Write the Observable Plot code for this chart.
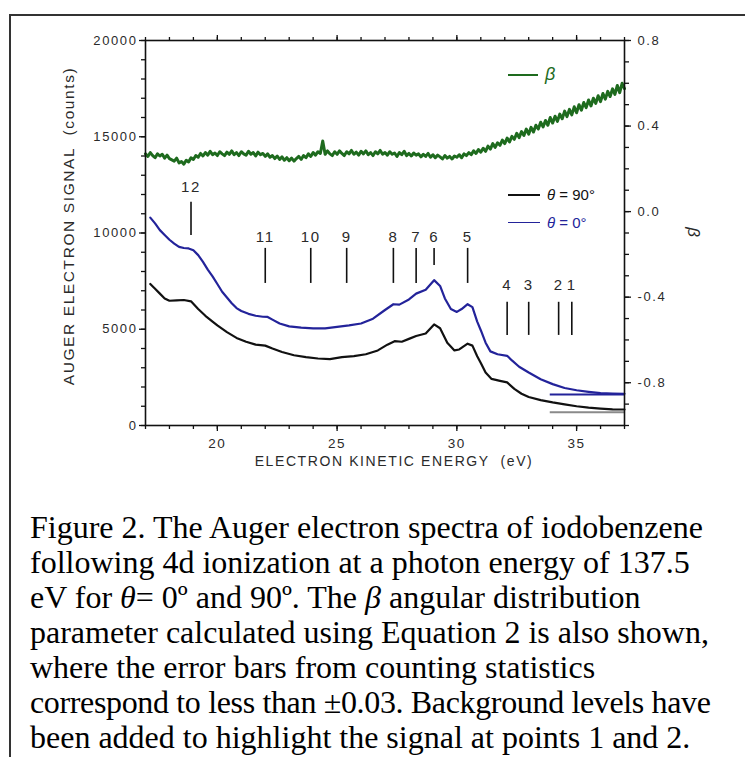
<!DOCTYPE html>
<html>
<head>
<meta charset="utf-8">
<script src="https://cdn.jsdelivr.net/npm/d3@7"></script>
<script src="https://cdn.jsdelivr.net/npm/@observablehq/plot@0.6"></script>
<style>
  html, body { margin: 0; padding: 0; background: #fff; }
  body { position: relative; width: 745px; height: 757px; overflow: hidden; }
  #frame { position: absolute; left: 9px; top: 14px; width: 800px; height: 800px;
           border-left: 2px solid #333; border-top: 2px solid #333; }
  #chart { position: absolute; left: 0; top: 0; }
  #chart svg text { letter-spacing: 1.6px; }
  .leg { position: absolute; font-family: "Liberation Sans", Arial, sans-serif; font-size: 15px;
         display: flex; align-items: center; white-space: nowrap; }
  .leg .ln { display: inline-block; width: 32px; height: 2px; margin-right: 7px; }
  #caption { position: absolute; left: 30px; top: 510px; font-family: "Liberation Serif", "Times New Roman", serif;
             font-size: 32px; line-height: 35px; color: #000; white-space: nowrap; }
</style>
</head>
<body>
<div id="frame"></div>
<div id="chart"></div>
<div class="leg" style="left:508px; top:64px; color:#1e6b1e;"><span class="ln" style="background:#1e6b1e;width:30px;"></span><span style="font-style:italic;font-size:18px;">β</span></div>
<div class="leg" style="left:508px; top:186px; color:#111;"><span class="ln" style="background:#111;"></span><i>θ</i>&nbsp;= 90°</div>
<div class="leg" style="left:508px; top:214px; color:#23239a;"><span class="ln" style="background:#23239a;height:1.5px;"></span><i>θ</i>&nbsp;= 0°</div>
<div id="caption">Figure 2. The Auger electron spectra of iodobenzene<br>following 4d ionization at a photon energy of 137.5<br>eV for <i>θ</i>= 0º and 90º. The <i>β</i> angular distribution<br>parameter calculated using Equation 2 is also shown,<br>where the error bars from counting statistics<br><span style="letter-spacing:-0.35px;">correspond to less than ±0.03. Background levels have</span><br>been added to highlight the signal at points 1 and 2.</div>
<script>
// ---- data ----
// theta = 0 deg spectrum (blue): [electron kinetic energy eV, counts]
const spectrum0 = [
  [17.2,10800],[17.4,10500],[17.6,10150],[17.8,9900],[18.0,9650],[18.2,9450],[18.4,9280],[18.6,9220],
  [18.8,9200],[19.0,9100],[19.2,8850],[19.4,8500],[19.6,8100],[19.8,7750],[20.0,7350],[20.2,6950],
  [20.4,6650],[20.6,6350],[20.8,6100],[21.0,5950],[21.3,5800],[21.6,5700],[21.9,5650],[22.1,5640],
  [22.3,5500],[22.6,5300],[23.0,5150],[23.5,5080],[24.0,5050],[24.5,5050],[25.0,5120],[25.5,5200],
  [26.0,5300],[26.5,5550],[27.0,6000],[27.35,6300],[27.6,6280],[28.0,6550],[28.3,6850],[28.7,7050],
  [29.05,7550],[29.3,7250],[29.5,6600],[29.75,6050],[30.0,5900],[30.2,6050],[30.45,6300],[30.65,6150],
  [30.85,5400],[31.0,4950],[31.2,4300],[31.4,3850],[31.7,3700],[32.1,3620],[32.3,3380],[32.6,3050],
  [33.0,2750],[33.5,2400],[34.0,2150],[34.5,1950],[35.0,1830],[35.5,1750],[36.0,1680],[36.5,1660],[37.0,1650]
];
// theta = 90 deg spectrum (black)
const spectrum90 = [
  [17.2,7350],[17.4,7100],[17.6,6850],[17.8,6600],[18.0,6480],[18.3,6500],[18.6,6520],[18.9,6450],
  [19.2,6050],[19.5,5700],[19.8,5400],[20.0,5200],[20.4,4850],[20.8,4550],[21.2,4350],[21.6,4200],
  [22.0,4150],[22.3,4000],[22.7,3820],[23.2,3650],[23.7,3550],[24.2,3480],[24.7,3450],[25.2,3550],
  [25.7,3600],[26.2,3700],[26.7,3900],[27.1,4200],[27.4,4380],[27.7,4350],[28.0,4500],[28.3,4650],
  [28.7,4780],[29.05,5250],[29.3,5050],[29.6,4300],[29.9,3900],[30.1,3950],[30.45,4250],[30.65,4150],
  [30.85,3600],[31.0,3250],[31.2,2750],[31.45,2420],[31.8,2320],[32.1,2240],[32.4,1900],[32.7,1650],
  [33.0,1480],[33.5,1320],[34.0,1200],[34.5,1100],[35.0,1000],[35.5,930],[36.0,880],[36.5,840],[37.0,830]
];
// beta angular distribution parameter (green, right axis): [eV, beta]
const betaSeries = [
  [17.0,0.270],[17.1,0.258],[17.2,0.276],[17.3,0.262],[17.4,0.252],[17.5,0.270],[17.6,0.260],[17.7,0.268],[17.8,0.250],[17.9,0.264],
  [18.0,0.248],[18.1,0.242],[18.2,0.236],[18.3,0.250],[18.4,0.228],[18.5,0.234],[18.6,0.222],[18.7,0.240],[18.8,0.232],[18.9,0.252],
  [19.0,0.244],[19.1,0.262],[19.2,0.254],[19.3,0.272],[19.4,0.260],[19.5,0.276],[19.6,0.264],[19.7,0.282],[19.8,0.266],[19.9,0.274],
  [20.0,0.262],[20.1,0.280],[20.2,0.270],[20.3,0.262],[20.4,0.278],[20.5,0.268],[20.6,0.284],[20.7,0.266],[20.8,0.276],[20.9,0.262],
  [21.0,0.280],[21.1,0.270],[21.2,0.264],[21.3,0.282],[21.4,0.268],[21.5,0.276],[21.6,0.260],[21.7,0.278],[21.8,0.266],[21.9,0.272],
  [22.0,0.258],[22.1,0.270],[22.2,0.254],[22.3,0.262],[22.4,0.248],[22.5,0.260],[22.6,0.244],[22.7,0.256],[22.8,0.240],[22.9,0.252],
  [23.0,0.238],[23.1,0.250],[23.2,0.236],[23.3,0.248],[23.4,0.258],[23.5,0.244],[23.6,0.262],[23.7,0.252],[23.8,0.270],[23.9,0.258],
  [24.0,0.276],[24.1,0.264],[24.2,0.280],[24.3,0.272],[24.4,0.330],[24.5,0.268],[24.6,0.284],[24.7,0.270],[24.8,0.262],[24.9,0.280],
  [25.0,0.268],[25.1,0.284],[25.2,0.272],[25.3,0.262],[25.4,0.280],[25.5,0.270],[25.6,0.286],[25.7,0.268],[25.8,0.278],[25.9,0.264],
  [26.0,0.282],[26.1,0.270],[26.2,0.284],[26.3,0.266],[26.4,0.276],[26.5,0.262],[26.6,0.280],[26.7,0.270],[26.8,0.286],[26.9,0.268],
  [27.0,0.276],[27.1,0.264],[27.2,0.280],[27.3,0.268],[27.4,0.274],[27.5,0.258],[27.6,0.276],[27.7,0.266],[27.8,0.282],[27.9,0.262],
  [28.0,0.272],[28.1,0.260],[28.2,0.274],[28.3,0.264],[28.4,0.270],[28.5,0.256],[28.6,0.268],[28.7,0.258],[28.8,0.272],[28.9,0.254],
  [29.0,0.266],[29.1,0.252],[29.2,0.264],[29.3,0.256],[29.4,0.246],[29.5,0.262],[29.6,0.250],[29.7,0.258],[29.8,0.246],[29.9,0.260],
  [30.0,0.254],[30.1,0.266],[30.2,0.252],[30.3,0.270],[30.4,0.262],[30.5,0.276],[30.6,0.266],[30.7,0.284],[30.8,0.272],[30.9,0.290],
  [31.0,0.278],[31.1,0.296],[31.2,0.282],[31.3,0.306],[31.4,0.292],[31.5,0.318],[31.6,0.300],[31.7,0.322],[31.8,0.310],[31.9,0.334],
  [32.0,0.318],[32.1,0.344],[32.2,0.326],[32.3,0.352],[32.4,0.338],[32.5,0.366],[32.6,0.346],[32.7,0.374],[32.8,0.356],[32.9,0.386],
  [33.0,0.362],[33.1,0.394],[33.2,0.372],[33.3,0.404],[33.4,0.386],[33.5,0.418],[33.6,0.396],[33.7,0.426],[33.8,0.404],[33.9,0.440],
  [34.0,0.414],[34.1,0.446],[34.2,0.422],[34.3,0.456],[34.4,0.434],[34.5,0.470],[34.6,0.444],[34.7,0.478],[34.8,0.452],[34.9,0.490],
  [35.0,0.462],[35.1,0.500],[35.2,0.474],[35.3,0.510],[35.4,0.486],[35.5,0.522],[35.6,0.494],[35.7,0.530],[35.8,0.506],[35.9,0.542],
  [36.0,0.514],[36.1,0.552],[36.2,0.526],[36.3,0.562],[36.4,0.538],[36.5,0.574],[36.6,0.548],[36.7,0.590],[36.8,0.556],[36.9,0.600],
  [37.0,0.575]
];
// numbered Auger features
const peakLabels = ["12","11","10","9","8","7","6","5","4","3","2","1"];
const peakEnergy = [18.9, 22.0, 23.9, 25.4, 27.35, 28.3, 29.05, 30.45, 32.1, 33.0, 34.25, 34.8];
const peakTop    = [11600, 9200, 9200, 9200, 9200, 9200, 9200, 9200, 6400, 6400, 6400, 6400];
const peakBottom = [9870, 7380, 7380, 7380, 7380, 7380, 8310, 7380, 4680, 4680, 4680, 4680];
const peakLabelY = [12400, 9800, 9800, 9800, 9800, 9800, 9800, 9800, 7280, 7280, 7280, 7280];
// background levels
const bgNames  = ["θ = 0°", "θ = 90°"];
const bgLevels = [1610, 690];
const bgStart = 33.9, bgEnd = 37;
// axes
const xTickLabels = [20, 25, 30, 35];
const yTickLabels = [0, 5000, 10000, 15000, 20000];
const betaTickLabels = [-0.8, -0.4, 0.0, 0.4, 0.8];
const xDomain = [17, 37], yDomain = [0, 20000], betaDomain = [-1.0, 0.8];

// ---- chart ----
const toCounts = b => (b - betaDomain[0]) / (betaDomain[1] - betaDomain[0]) * (yDomain[1] - yDomain[0]);
const fromCounts = c => c / (yDomain[1] - yDomain[0]) * (betaDomain[1] - betaDomain[0]) + betaDomain[0];
const fmtBeta = v => { const r = Math.round(v * 10) / 10; return (r < 0 ? "-" : "") + Math.abs(r).toFixed(1); };

const xMinor = d3.range(xDomain[0], xDomain[1] + 0.5, 1);
const yMinor = d3.range(0, 20001, 1000);
const betaMinor = d3.range(-10, 9, 1).map(d => d / 10);

const peaks = peakLabels.map((l, i) => ({label: l, e: peakEnergy[i], top: peakTop[i], bottom: peakBottom[i], ly: peakLabelY[i]}));
const bg = bgNames.map((n, i) => ({name: n, level: bgLevels[i]}));
const blank = () => "";
const tickColor = "#111";
const txt = "#2a2a2a";

const chart = Plot.plot({
  width: 745, height: 480,
  marginLeft: 145, marginRight: 121, marginTop: 40, marginBottom: 55,
  style: {fontFamily: "'Liberation Sans', Arial, sans-serif", background: "transparent"},
  x: {domain: xDomain},
  y: {domain: yDomain},
  marks: [
    // minor / mirrored ticks
    Plot.axisX({ticks: xMinor, tickSize: 4, tickFormat: blank, label: null, stroke: tickColor, strokeWidth: 1.3}),
    Plot.axisX({anchor: "top", ticks: xMinor, tickSize: 4, tickFormat: blank, label: null, stroke: tickColor, strokeWidth: 1.3}),
    Plot.axisX({anchor: "top", ticks: xTickLabels, tickSize: 6, tickFormat: blank, label: null, stroke: tickColor, strokeWidth: 1.3}),
    Plot.axisX({ticks: xTickLabels, tickSize: 6, tickPadding: 7, fontSize: 13.5, label: null, stroke: tickColor, fill: txt, strokeWidth: 1.3, tickFormat: d => String(d)}),
    Plot.axisY({ticks: yMinor, tickSize: 4, tickFormat: blank, label: null, stroke: tickColor, strokeWidth: 1.3}),
    Plot.axisY({ticks: yTickLabels, tickSize: 6, tickPadding: 2, fontSize: 13, label: null, stroke: tickColor, fill: txt, strokeWidth: 1.3, tickFormat: d => String(d)}),
    Plot.axisY({anchor: "right", ticks: betaMinor.map(toCounts), tickSize: 4, tickFormat: blank, label: null, stroke: tickColor, strokeWidth: 1.3}),
    Plot.axisY({anchor: "right", ticks: betaTickLabels.map(toCounts), tickSize: 6, tickPadding: 7, fontSize: 13, label: null, stroke: tickColor, fill: txt, strokeWidth: 1.3, tickFormat: d => fmtBeta(fromCounts(d))}),
    // axis titles
    Plot.text(["AUGER ELECTRON SIGNAL  (counts)"], {frameAnchor: "left", textAnchor: "middle", dx: -76, dy: -7, rotate: -90, fontSize: 15.5, fill: txt}),
    Plot.text(["ELECTRON KINETIC ENERGY  (eV)"], {frameAnchor: "bottom", textAnchor: "middle", dx: 9, dy: 40, fontSize: 14, fill: txt}),
    Plot.text(["β"], {frameAnchor: "right", textAnchor: "middle", dx: 69, rotate: 90, fontSize: 17, fontStyle: "italic", fill: txt}),
    // background levels
    Plot.ruleY(bg, {y: "level", x1: bgStart, x2: bgEnd, stroke: (d, i) => i === 0 ? "#23239a" : "#8a8a8a", strokeWidth: 2}),
    // data
    Plot.line(betaSeries, {x: d => d[0], y: d => toCounts(d[1]), stroke: "#1e6b1e", strokeWidth: 3}),
    Plot.line(spectrum90, {x: d => d[0], y: d => d[1], stroke: "#111", strokeWidth: 2.2}),
    Plot.line(spectrum0, {x: d => d[0], y: d => d[1], stroke: "#23239a", strokeWidth: 2.2}),
    // feature markers
    Plot.ruleX(peaks, {x: "e", y1: "bottom", y2: "top", stroke: "#111", strokeWidth: 1.6}),
    Plot.text(peaks, {x: "e", y: "ly", text: "label", fontSize: 15, fill: txt}),
    Plot.frame({stroke: "#111", strokeWidth: 1.6})
  ]
});
document.getElementById("chart").appendChild(chart);
</script>
</body>
</html>
